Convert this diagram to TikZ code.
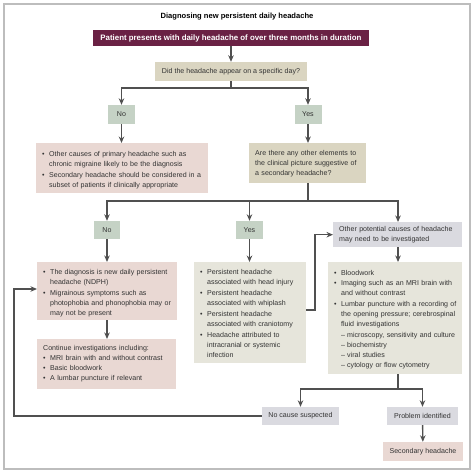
\documentclass[tikz,border=0pt]{standalone}
\usepackage{fontspec}
\setmainfont{Liberation Sans}
\usepackage{xcolor}
\usetikzlibrary{arrows.meta}
\definecolor{maroon}{HTML}{6A2144}
\definecolor{quest}{HTML}{DAD5C1}
\definecolor{answer}{HTML}{C5D2C5}
\definecolor{pinkbox}{HTML}{E9D8D3}
\definecolor{greybox}{HTML}{E6E5DB}
\definecolor{lilac}{HTML}{DADAE0}
\definecolor{txt}{HTML}{333333}
\definecolor{arrc}{HTML}{505050}
\definecolor{framec}{HTML}{BDBDBD}
% bullet and dash items, one line per row so nothing rewraps
\newcommand{\itm}[1]{\par\noindent\makebox[7bp][l]{\textbullet}\begin{tabular}[t]{@{}l@{}}#1\end{tabular}}
\newcommand{\sitm}[1]{\par\noindent\hspace*{7bp}\makebox[6bp][l]{--}\begin{tabular}[t]{@{}l@{}}#1\end{tabular}}
\tikzset{
    every node/.style={font=\fontsize{7.1}{10}\selectfont, text=txt},
    box/.style={anchor=north west, inner xsep=6bp, inner ysep=0pt, align=left},
    ans/.style={fill=answer, minimum width=27bp, minimum height=19bp, inner sep=0pt},
    arr/.style={draw=arrc, line width=1.4bp, -{Stealth[length=6.5bp,width=5.5bp]}},
    ln/.style={draw=arrc, line width=1.4bp}
}

\begin{document}
\begin{tikzpicture}[x=1bp,y=-1bp]
\useasboundingbox (0,0) rectangle (474,474);
\draw[framec, line width=1.5bp] (4,4) rectangle (470,469);
% title and start
\node[font=\fontsize{7.6}{9}\selectfont\bfseries, text=black] (title) at (237,17) {Diagnosing new persistent daily headache};
\node[fill=maroon, text=white, font=\fontsize{7.9}{9}\selectfont\bfseries, minimum width=276bp, minimum height=16bp, inner sep=0pt] (start) at (231,38) {Patient presents with daily headache of over three months in duration};
\node[fill=quest, minimum width=152bp, minimum height=19bp, inner sep=0pt] (q1) at (231,71.5) {Did the headache appear on a specific day?};
\node[ans] (no1) at (121.5,114.5) {No};
\node[ans] (yes1) at (308,114.5) {Yes};
% first level
\node[box, fill=pinkbox, text width=160bp, minimum height=50bp] (pink1) at (36,143) {%
\itm{Other causes of primary headache such as\\chronic migraine likely to be the diagnosis}
\itm{Secondary headache should be considered in a\\subset of patients if clinically appropriate}};
\node[box, fill=quest, text width=105bp, minimum height=40bp] (q2) at (249,143) {%
\begin{tabular}{@{}l@{}}Are there any other elements to\\the clinical picture suggestive of\\a secondary headache?\end{tabular}};
\node[ans, minimum width=26bp, minimum height=18bp] (no2) at (107,230) {No};
\node[ans, minimum width=27bp, minimum height=18bp] (yes2) at (249.5,230) {Yes};
\node[box, fill=lilac, text width=117bp, minimum height=25bp] (other) at (333,222) {%
\begin{tabular}{@{}l@{}}Other potential causes of headache\\may need to be investigated\end{tabular}};
% second level
\node[box, fill=pinkbox, text width=128bp, minimum height=58bp] (ndph) at (37,262) {%
\itm{The diagnosis is new daily persistent\\headache (NDPH)}
\itm{Migrainous symptoms such as\\photophobia and phonophobia may or\\may not be present}};
\node[box, fill=pinkbox, text width=127bp, minimum height=50bp] (cont) at (37,339) {%
\mbox{Continue investigations including:}
\itm{MRI brain with and without contrast}
\itm{Basic bloodwork}
\itm{A lumbar puncture if relevant}};
\node[box, fill=greybox, text width=100bp, minimum height=101bp] (yeslist) at (194,262) {%
\itm{Persistent headache\\associated with head injury}
\itm{Persistent headache\\associated with whiplash}
\itm{Persistent headache\\associated with craniotomy}
\itm{Headache attributed to\\intracranial or systemic\\infection}};
\node[box, fill=greybox, text width=122bp, minimum height=112bp] (invest) at (328,262) {%
\itm{Bloodwork}
\itm{Imaging such as an MRI brain with\\and without contrast}
\itm{Lumbar puncture with a recording of\\the opening pressure; cerebrospinal\\fluid investigations}
\sitm{microscopy, sensitivity and culture}
\sitm{biochemistry}
\sitm{viral studies}
\sitm{cytology or flow cytometry}};
% outcomes
\node[fill=lilac, minimum width=77bp, minimum height=18bp, inner sep=0pt] (nocause) at (300.5,416) {No cause suspected};
\node[fill=lilac, minimum width=71bp, minimum height=18bp, inner sep=0pt] (probid) at (422.5,416) {Problem identified};
\node[fill=pinkbox, minimum width=80bp, minimum height=19bp, inner sep=0pt] (sec) at (423,451.5) {Secondary headache};
% connectors
\coordinate (j1) at (231,88);
\coordinate (j2) at (308,201);
\coordinate (j3) at (398,389);
\coordinate (fb) at (14,289);
\coordinate (yo) at (315,310);
\draw[arr] (start) -- (q1);
\draw[ln] (q1) -- (j1);
\draw[arr] (j1) -| (no1);
\draw[arr] (j1) -| (yes1);
\draw[arr] (no1) -- (no1 |- pink1.north);
\draw[arr] (yes1) -- (yes1 |- q2.north);
\draw[ln] (q2.south -| j2) -- (j2);
\draw[arr] (j2) -| (no2);
\draw[arr] (j2) -| (yes2);
\draw[arr] (j2) -| (other.north -| j3);
\draw[arr] (no2) -- (no2 |- ndph.north);
\draw[arr] (yes2) -- (yes2 |- yeslist.north);
\draw[arr] (other.south -| j3) -- (j3 |- invest.north);
\draw[arr] (ndph.south -| no2) -- (no2 |- cont.north);
\draw[arr] (yo -| yeslist.east) -- (yo) |- (other.west);
\draw[ln] (invest.south -| j3) -- (j3);
\draw[arr] (j3) -| (nocause);
\draw[arr] (j3) -| (probid);
\draw[arr] (probid) -- (sec);
\draw[arr] (nocause.west) -| (fb) -- (fb -| ndph.west);
\end{tikzpicture}
\end{document}
